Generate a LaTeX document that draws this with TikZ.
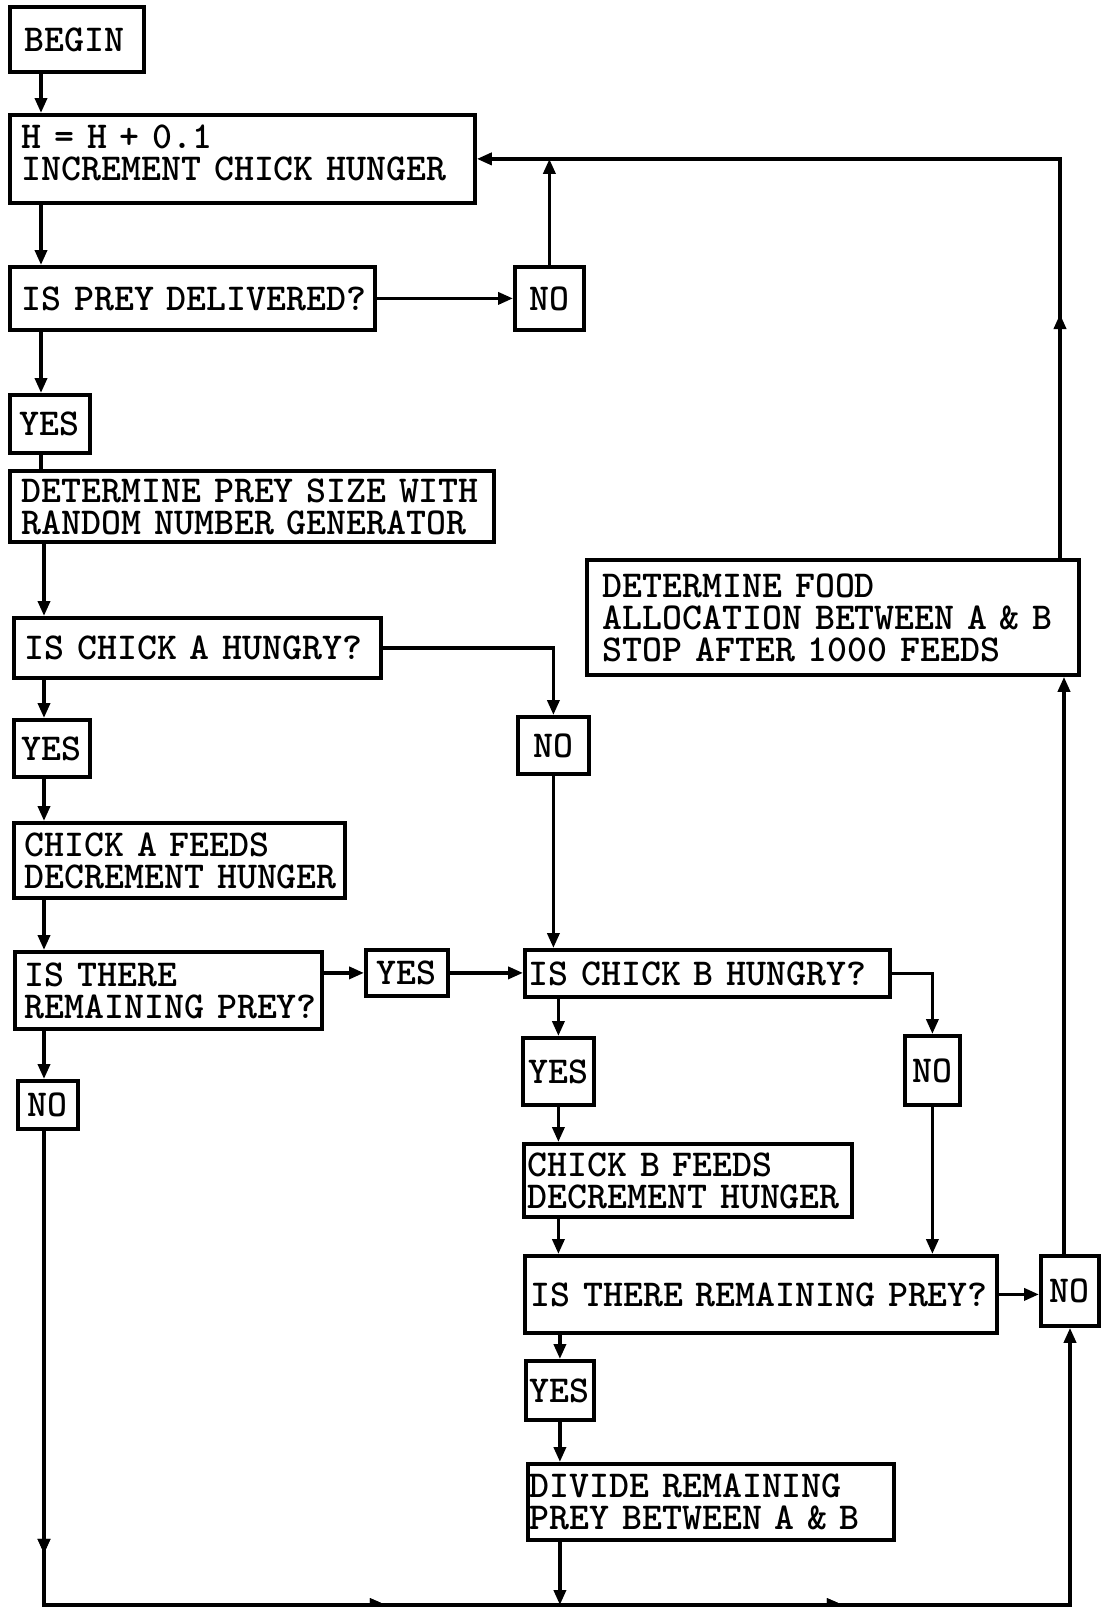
\documentclass[tikz,border=0pt]{standalone}
\usetikzlibrary{arrows.meta,decorations.markings}
\tikzset{
  box/.style={draw, line width=3.8pt, inner ysep=0pt, anchor=north west,
    font=\fontsize{38}{32}\selectfont\ttfamily\bfseries},
  conn/.style={line width=3.6pt},
  arr/.style={conn, -{Triangle[length=15pt,width=12pt]}},
  tipmark/.style={postaction={decorate}, decoration={markings,
    mark=at position #1 with {\arrow{Triangle[length=15pt,width=12pt]}}}},
}
\newcommand\ml[1]{\mbox{#1}}
\newcommand\bx[8]{%
  \pgfmathsetmacro\bxw{#4-#2}\pgfmathsetmacro\bxh{#5-#3}\pgfmathsetmacro\bxt{#4-#2-2*#6}%
  \node[box, minimum width=\bxw pt, minimum height=\bxh pt, text width=\bxt pt,
    inner xsep=#6pt, align=#7] (#1) at (#2,#3) {#8};}
\begin{document}
\begin{tikzpicture}[x=1pt,y=-1pt]
\useasboundingbox (0,0) rectangle (1101,1609);
% boxes
\bx{begin}{8}{5}{142}{70}{15}{left}{\ml{BEGIN}}
\bx{hinc}{8}{113}{473}{201}{12}{left}{\ml{H = H + 0.1}\\\ml{INCREMENT CHICK HUNGER}\rule[-13pt]{0pt}{13pt}}
\bx{prey}{8}{265}{373}{328}{12}{left}{\ml{IS PREY DELIVERED?}}
\bx{noA}{513}{265}{582}{328}{0}{center}{NO}
\bx{yesA}{8}{393}{88}{451}{0}{center}{YES}
\bx{size}{8}{469}{492}{540}{12}{left}{\ml{DETERMINE PREY SIZE WITH}\\\ml{RANDOM NUMBER GENERATOR}}
\bx{hungA}{12}{616}{379}{676}{11}{left}{\ml{IS CHICK A HUNGRY?}}
\bx{yesB}{12}{718}{88}{775}{0}{center}{YES}
\bx{noB}{516}{715}{587}{772}{0}{center}{NO}
\bx{feedA}{12}{821}{343}{896}{11}{left}{\ml{CHICK A FEEDS}\\\ml{DECREMENT HUNGER}}
\bx{remA}{13}{950}{320}{1027}{10}{left}{\ml{IS THERE}\\\ml{REMAINING PREY?}}
\bx{yesC}{364}{948}{446}{994}{0}{center}{YES}
\bx{noC}{16}{1079}{76}{1127}{0}{center}{NO}
\bx{hungB}{523}{948}{888}{995}{4}{left}{\ml{IS CHICK B HUNGRY?}}
\bx{yesD}{521}{1036}{592}{1103}{0}{center}{YES}
\bx{noD}{903}{1034}{958}{1103}{0}{center}{NO}
\bx{feedB}{522}{1142}{850}{1215}{4}{left}{\ml{CHICK B FEEDS}\\\ml{DECREMENT HUNGER}}
\bx{remB}{523}{1254}{995}{1331}{6}{left}{\ml{IS THERE REMAINING PREY?}}
\bx{noE}{1039}{1254}{1097}{1324}{0}{center}{NO}
\bx{yesE}{524}{1359}{592}{1418}{0}{center}{YES}
\bx{divide}{526}{1462}{892}{1538}{2}{left}{\ml{DIVIDE REMAINING}\\\ml{PREY BETWEEN A \& B}}
\bx{food}{585}{558}{1077}{673}{16}{left}{\ml{DETERMINE FOOD}\\\ml{ALLOCATION BETWEEN A \& B}\\\ml{STOP AFTER 1000 FEEDS}}
% column coordinates
\coordinate (cL) at (41,0);
\coordinate (cL2) at (44,0);
\coordinate (cR) at (1060,0);
\coordinate (cR2) at (1064,0);
\coordinate (bl) at (44,1605);
\coordinate (br) at (1070,1605);
% left column
\draw[arr] (begin.south -| cL) -- (hinc.north -| cL);
\draw[arr] (hinc.south -| cL) -- (prey.north -| cL);
\draw[arr] (prey.south -| cL) -- (yesA.north -| cL);
\draw[conn] (yesA.south -| cL) -- (size.north -| cL);
\draw[arr] (size.south -| cL2) -- (hungA.north -| cL2);
\draw[arr] (hungA.south -| cL2) -- (yesB.north -| cL2);
\draw[arr] (yesB.south -| cL2) -- (feedA.north -| cL2);
\draw[arr] (feedA.south -| cL2) -- (remA.north -| cL2);
\draw[arr] (remA.south -| cL2) -- (noC.north -| cL2);
% bottom loop
\draw[arr, tipmark=423pt,
  postaction={decorate}, decoration={markings,
    mark=at position 815pt with {\fill (1pt,0pt) -- (-15pt,7pt) -- (-15pt,0pt) -- cycle;},
    mark=at position 1272pt with {\fill (1pt,0pt) -- (-15pt,7pt) -- (-15pt,0pt) -- cycle;}}]
  (noC.south -| cL2) -- (bl) -- (br) -- (br |- noE.south);
% top loop
\draw[arr] (prey.east) -- (noA.west);
\draw[arr] (noA.north) -- (noA.north |- hinc.east);
\draw[arr, tipmark=244pt] (food.north -| cR) -- (cR |- hinc.east) -- (hinc.east);
\draw[arr] (noE.north -| cR2) -- (food.south -| cR2);
% middle
\draw[arr] (hungA.east) -| (noB.north);
\draw[arr] (noB.south) -- (noB.south |- hungB.north);
\draw[arr] (yesC.west -| remA.east) -- (yesC.west);
\draw[arr] (yesC.east) -- (yesC.east -| hungB.west);
\draw[arr] (hungB.east) -| (noD.north);
\draw[arr] (noD.south) -- (noD.south |- remB.north);
\draw[arr] (hungB.south -| yesD.north) -- (yesD.north);
\draw[arr] (yesD.south) -- (yesD.south |- feedB.north);
\draw[arr] (feedB.south -| yesD.south) -- (remB.north -| yesD.south);
\draw[arr] (remB.east) -- (remB.east -| noE.west);
\draw[arr] (remB.south -| yesE.north) -- (yesE.north);
\draw[arr] (yesE.south) -- (yesE.south |- divide.north);
\draw[arr] (divide.south -| yesE.south) -- (bl -| yesE.south);
\end{tikzpicture}
\end{document}
